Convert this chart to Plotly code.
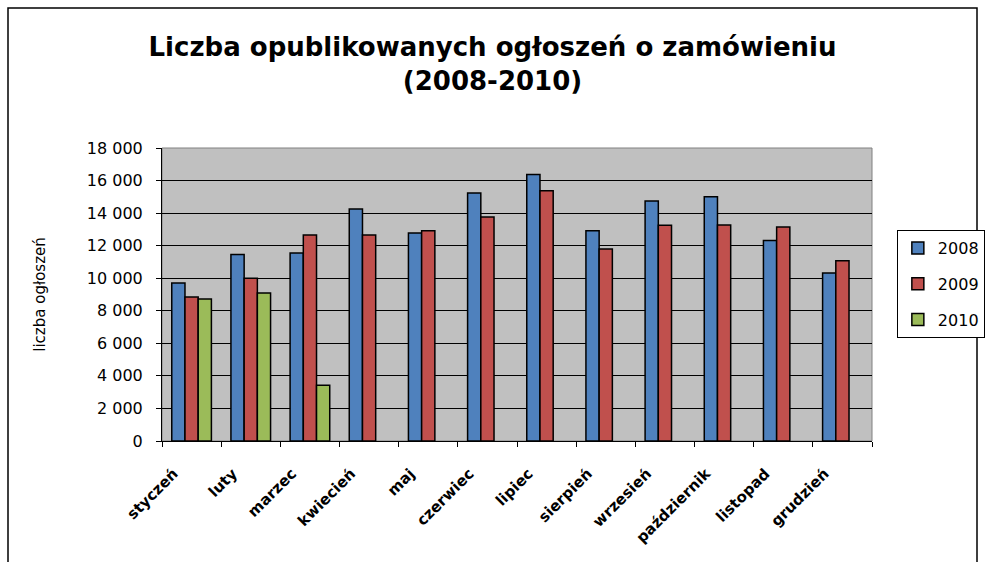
import plotly.graph_objects as go

months = ["styczeń", "luty", "marzec", "kwiecień", "maj", "czerwiec", "lipiec",
          "sierpień", "wrzesień", "październik", "listopad", "grudzień"]
v2008 = [9700, 11450, 11550, 14250, 12780, 15240, 16370, 12920, 14750, 15010, 12310, 10320]
v2009 = [8850, 10000, 12660, 12660, 12920, 13760, 15380, 11800, 13250, 13270, 13150, 11080]
v2010 = [8720, 9090, 3430, None, None, None, None, None, None, None, None, None]
ytick_vals = [0, 2000, 4000, 6000, 8000, 10000, 12000, 14000, 16000, 18000]
ytick_text = ["0", "2 000", "4 000", "6 000", "8 000", "10 000", "12 000", "14 000", "16 000", "18 000"]

title_text = "<b>Liczba opublikowanych ogłoszeń o zamówieniu<br>(2008-2010)</b>"
y_title = "liczba ogłoszeń"

FONT = "DejaVu Sans"

fig = go.Figure()
for name, vals, color in [("2008", v2008, "#4F81BD"), ("2009", v2009, "#C0504D"), ("2010", v2010, "#9BBB59")]:
    fig.add_trace(go.Bar(x=months, y=vals, name=name, legendgroup=name,
                         marker=dict(color=color, line=dict(color="black", width=1.5))))

fig.update_layout(
    width=985, height=562,
    margin=dict(l=162, r=113, t=148, b=121, autoexpand=False),
    paper_bgcolor="white", plot_bgcolor="#C0C0C0",
    barmode="group", bargap=0.33, bargroupgap=0,
    title=dict(text=title_text, x=0.5, xref="container", xanchor="center",
               y=0.9, yanchor="top",
               font=dict(family=FONT, size=26, color="black")),
    legend=dict(x=1.035, y=0.72, xanchor="left", yanchor="top",
                bgcolor="white", bordercolor="black", borderwidth=1,
                font=dict(family=FONT, size=16, color="black"),
                traceorder="grouped", tracegroupgap=12),
    showlegend=True,
    font=dict(family=FONT, color="black"),
    shapes=[
        dict(type="rect", xref="paper", yref="paper", x0=0, x1=1, y0=0, y1=1,
             line=dict(color="#808080", width=1), layer="below"),
        dict(type="rect", xref="paper", yref="paper",
             x0=(8 - 162) / 710, x1=(977 - 162) / 710,
             y0=(441 - 570) / 293, y1=(441 - 8) / 293,
             line=dict(color="black", width=1.5)),
    ],
)
fig.update_xaxes(showline=True, linecolor="black", linewidth=1,
                 ticks="outside", ticklen=5, tickcolor="black", tickson="boundaries",
                 tickangle=-45, ticklabelstandoff=17, ticklabelshift=-18,
                 tickfont=dict(family=FONT, size=15, color="black", weight="bold"),
                 showgrid=False)
fig.update_yaxes(range=[0, 18000], tickvals=ytick_vals, ticktext=ytick_text,
                 showline=True, linecolor="black", linewidth=1,
                 ticks="outside", ticklen=5, tickcolor="black", ticklabelstandoff=10,
                 showgrid=True, gridcolor="black", gridwidth=1, zeroline=False,
                 tickfont=dict(family=FONT, size=16, color="black"),
                 title=dict(text=y_title, font=dict(family=FONT, size=15, color="black"), standoff=37))

fig.write_html("out.html", config={"displayModeBar": False},
               post_script="document.body.style.margin='0px';")
